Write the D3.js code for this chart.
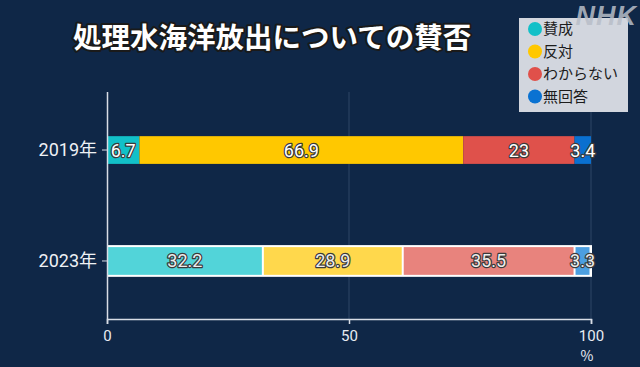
<!DOCTYPE html>
<html lang="ja">
<head>
<meta charset="UTF-8">
<title>処理水海洋放出についての賛否</title>
<script src="https://cdn.jsdelivr.net/npm/d3@7"></script>
<style>
  html, body { margin: 0; padding: 0; background: #0f2747; }
  svg { display: block; font-family: "Noto Sans CJK JP", "Noto Sans", sans-serif; }
  .lbl { paint-order: stroke; stroke-linejoin: round; }
</style>
</head>
<body>
<svg width="640" height="367"></svg>
<script>
// データ
var years = ["2019年", "2023年"];
var answers = ["賛成", "反対", "わからない", "無回答"];
var values2019 = [6.7, 66.9, 23, 3.4];
var values2023 = [32.2, 28.9, 35.5, 3.3];
var xTicks = [0, 50, 100];

var legendColors = ["#12c0c8", "#ffc800", "#e0504a", "#0a72d2"];
var colors = {
  "2019年": ["#12c0c8", "#ffc800", "#df514b", "#0a70d0"],
  "2023年": ["#52d4d9", "#ffd84c", "#e8837d", "#4c9fe0"]
};

var width = 640, height = 367;
var svg = d3.select("svg");

svg.append("rect").attr("width", width).attr("height", height).attr("fill", "#0f2747");

var x = d3.scaleLinear().domain([0, 100]).range([107, 591]);
var y = d3.scaleBand().domain(years).range([94, 317])
  .paddingInner(0.75).paddingOuter(0.38);

// グリッド線
svg.append("g").selectAll("line")
  .data([50, 100])
  .enter().append("line")
  .attr("x1", d => x(d)).attr("x2", d => x(d))
  .attr("y1", 92).attr("y2", 319)
  .attr("stroke", "#2f4766").attr("stroke-width", 1);

// 積み上げデータ
var rows = years.map(function (yr, i) {
  var vals = i === 0 ? values2019 : values2023;
  var acc = 0;
  return vals.map(function (v, j) {
    var seg = { year: yr, idx: j, v: v, x0: acc, x1: acc + v };
    acc += v;
    return seg;
  });
});
var segs = rows.flat();

var bars = svg.append("g");
// 2023年の白い枠
bars.append("rect")
  .attr("x", x(0)).attr("y", y("2023年") - 2)
  .attr("width", x(100) - x(0) + 1).attr("height", y.bandwidth() + 4)
  .attr("fill", "#ffffff");

bars.selectAll("rect.seg")
  .data(segs)
  .enter().append("rect")
  .attr("class", "seg")
  .attr("x", d => x(d.x0) + (d.year === "2023年" ? 1 : 0))
  .attr("y", d => y(d.year))
  .attr("width", d => Math.max(0, x(d.x1) - x(d.x0) - (d.year === "2023年" ? 2 : 0)))
  .attr("height", y.bandwidth())
  .attr("fill", d => colors[d.year][d.idx]);

// 値ラベル
svg.append("g").selectAll("text")
  .data(segs)
  .enter().append("text")
  .attr("class", "lbl")
  .attr("x", d => x((d.x0 + d.x1) / 2))
  .attr("y", d => y(d.year) + y.bandwidth() / 2)
  .attr("dy", "0.36em")
  .attr("text-anchor", "middle")
  .attr("font-family", "Roboto, 'Noto Sans', sans-serif")
  .attr("font-size", 18)
  .attr("fill", d => d.year === "2023年" ? "#eeeeee" : "#ffffff")
  .attr("stroke", "#3a3a3a").attr("stroke-width", 2.5)
  .text(d => d.v);

// 軸
var xAxis = svg.append("g")
  .attr("transform", "translate(0,319)")
  .call(d3.axisBottom(x).tickValues(xTicks).tickSize(5).tickPadding(6));
xAxis.select(".domain").attr("stroke", "#d8dde6").attr("stroke-width", 1.5);
xAxis.selectAll(".tick line").attr("stroke", "#d8dde6").attr("stroke-width", 1.5);
xAxis.selectAll(".tick text").attr("fill", "#e8ecf2").attr("font-size", 15)
  .attr("font-family", "Roboto, 'Noto Sans', sans-serif");

svg.append("text")
  .attr("x", x(100) - 4).attr("y", 361)
  .attr("text-anchor", "middle")
  .attr("fill", "#e8ecf2").attr("font-size", 14)
  .text("%");

var yAxis = svg.append("g")
  .attr("transform", "translate(107,0)")
  .call(d3.axisLeft(y).tickSize(5).tickPadding(5));
yAxis.select(".domain").attr("d", "M0.5,92V319").attr("stroke", "#d8dde6").attr("stroke-width", 1.5);
yAxis.selectAll(".tick line").attr("stroke", "#d8dde6");
yAxis.selectAll(".tick text").attr("fill", "#eef1f5").attr("font-size", 18)
  .attr("font-family", "Roboto, 'Noto Sans CJK JP', sans-serif");

// タイトル
svg.append("text")
  .attr("class", "lbl")
  .attr("x", 73).attr("y", 48)
  .attr("fill", "#ffffff")
  .attr("stroke", "#1a1a1a").attr("stroke-width", 4)
  .attr("font-size", 28.5).attr("font-weight", "bold")
  .text("処理水海洋放出についての賛否");

// 凡例
var legend = svg.append("g").attr("transform", "translate(519,18)");
legend.append("rect")
  .attr("width", 109).attr("height", 94)
  .attr("fill", "#d2d6de");
var item = legend.selectAll("g.item")
  .data(answers)
  .enter().append("g")
  .attr("class", "item")
  .attr("transform", (d, i) => "translate(0," + (11 + i * 22.5) + ")");
item.append("circle")
  .attr("cx", 16).attr("cy", 0).attr("r", 7)
  .attr("fill", (d, i) => legendColors[i]);
item.append("text")
  .attr("x", 24).attr("dy", "0.36em")
  .attr("font-size", 15).attr("fill", "#1c1c1c")
  .text(d => d);

// ロゴ
svg.append("text")
  .attr("x", 637).attr("y", 25)
  .attr("text-anchor", "end")
  .attr("font-family", "'Liberation Sans', Arial, sans-serif")
  .attr("font-weight", "bold").attr("font-style", "italic")
  .attr("font-size", 27).attr("letter-spacing", 1)
  .attr("fill", "#b8bec8").attr("fill-opacity", 0.85)
  .text("NHK");
</script>
</body>
</html>
